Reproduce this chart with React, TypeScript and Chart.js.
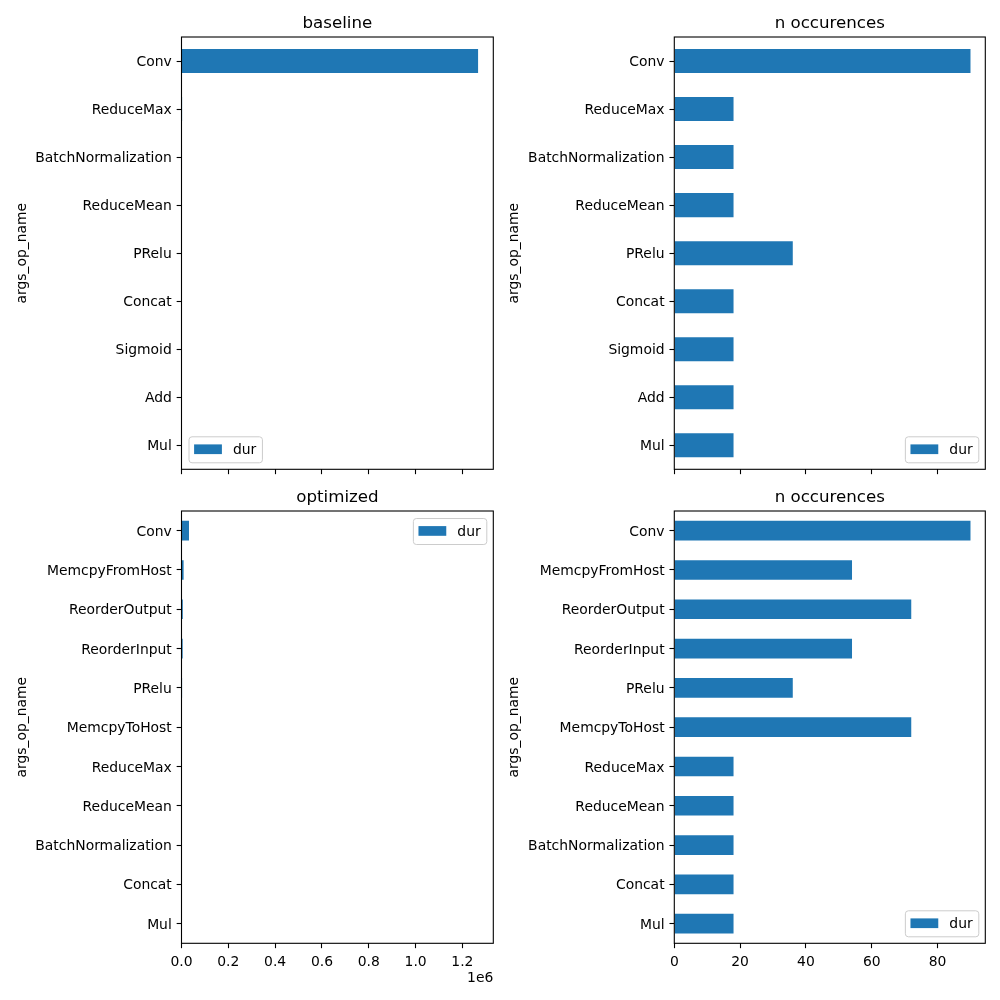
import React, { useEffect, useRef } from "react";
import { Chart, registerables } from "chart.js";

Chart.register(...registerables);

const FONT = "DejaVu Sans";
const BAR_COLOR = "#1f77b4";

// ---- data ----
const BASELINE_OPS = ["Conv", "ReduceMax", "BatchNormalization", "ReduceMean", "PRelu", "Concat", "Sigmoid", "Add", "Mul"];
const BASELINE_DUR = [1267000, 2600, 2200, 1800, 1500, 900, 700, 500, 400];
const BASELINE_COUNT = [90, 18, 18, 18, 36, 18, 18, 18, 18];

const OPTIMIZED_OPS = ["Conv", "MemcpyFromHost", "ReorderOutput", "ReorderInput", "PRelu", "MemcpyToHost", "ReduceMax", "ReduceMean", "BatchNormalization", "Concat", "Mul"];
const OPTIMIZED_DUR = [32000, 9000, 5500, 5000, 2500, 2000, 1600, 1300, 1000, 700, 500];
const OPTIMIZED_COUNT = [90, 54, 72, 54, 36, 72, 18, 18, 18, 18, 18];

const DUR_TICKS = [0, 200000, 400000, 600000, 800000, 1000000, 1200000];
const COUNT_TICKS = [0, 20, 40, 60, 80];
const DUR_MAX = 1332000;
const COUNT_MAX = 94.5;

const framePlugin = {
  id: "mplFrame",
  afterDatasetsDraw(chart: any) {
    const { ctx, chartArea: ca } = chart;
    ctx.save();
    ctx.strokeStyle = "#000";
    ctx.lineWidth = 1.1;
    ctx.strokeRect(ca.left, ca.top, ca.right - ca.left, ca.bottom - ca.top);
    ctx.restore();
  },
};

const legendPlugin = {
  id: "mplLegend",
  afterDraw(chart: any, _args: any, opts: any) {
    const { ctx, chartArea: ca } = chart;
    const fs = 13.9;
    ctx.save();
    ctx.font = `${fs}px "${FONT}"`;
    const label = opts.label || "dur";
    const tw = ctx.measureText(label).width;
    const pad = 5.6;
    const patchW = 27.8;
    const gap = 11.1;
    const w = pad + patchW + gap + tw + pad;
    const h = 26;
    const off = 7;
    const corner = opts.corner || "ll";
    const x = corner[1] === "l" ? ca.left + off : ca.right - off - w;
    const y = corner[0] === "u" ? ca.top + off : ca.bottom - off - h;
    ctx.beginPath();
    (ctx as any).roundRect(x + 0.5, y + 0.5, w, h, 3);
    ctx.fillStyle = "rgba(255,255,255,0.8)";
    ctx.fill();
    ctx.strokeStyle = "#cccccc";
    ctx.lineWidth = 1;
    ctx.stroke();
    ctx.fillStyle = BAR_COLOR;
    ctx.fillRect(x + pad, y + h / 2 - 4.9, patchW, 9.7);
    ctx.fillStyle = "#000";
    ctx.textBaseline = "middle";
    ctx.textAlign = "left";
    ctx.fillText(label, x + pad + patchW + gap, y + h / 2 + 1.2);
    ctx.restore();
  },
};

type PanelProps = {
  left: number;
  top: number;
  width: number;
  height: number;
  title: string;
  titleTop: number;
  titleBottom: number;
  labels: string[];
  values: number[];
  xMax: number;
  xTicks: number[];
  xFormat: (v: number) => string;
  showXLabels: boolean;
  xTitle?: string;
  xTitleBottom?: number;
  xAxisHeight: number;
  yAxisWidth: number;
  yTitlePad: number;
  padRight: number;
  legendCorner: string;
};

function makeConfig(p: PanelProps): any {
  const tickFont = { family: FONT, size: 13.9 };
  return {
    type: "bar",
    data: {
      labels: p.labels,
      datasets: [
        {
          label: "dur",
          data: p.values,
          backgroundColor: BAR_COLOR,
          borderWidth: 0,
          barPercentage: 0.5,
          categoryPercentage: 1,
        },
      ],
    },
    options: {
      indexAxis: "y",
      responsive: false,
      animation: false,
      devicePixelRatio: 1,
      layout: { padding: { left: 0, right: p.padRight, top: 0, bottom: 0 } },
      plugins: {
        legend: { display: false },
        tooltip: { enabled: false },
        title: {
          display: true,
          text: p.title,
          fullSize: false,
          color: "#000",
          font: { family: FONT, size: 16.67, weight: "normal" },
          padding: { top: p.titleTop, bottom: p.titleBottom },
        },
        mplLegend: { corner: p.legendCorner, label: "dur" },
      },
      scales: {
        x: {
          type: "linear",
          min: 0,
          max: p.xMax,
          afterBuildTicks: (s: any) => {
            s.ticks = p.xTicks.map((v) => ({ value: v }));
          },
          afterFit: (s: any) => {
            s.height = p.xAxisHeight;
            s.paddingLeft = 0;
            s.paddingRight = 0;
          },
          grid: {
            drawOnChartArea: false,
            drawTicks: true,
            tickLength: 4.86,
            tickColor: "#000",
            tickWidth: 1.1,
            offset: false,
          },
          border: { display: false },
          ticks: {
            display: p.showXLabels,
            color: "#000",
            font: tickFont,
            padding: 5.9,
            maxRotation: 0,
            minRotation: 0,
            autoSkip: false,
            callback: (v: any) => p.xFormat(Number(v)),
          },
          title: {
            display: !!p.xTitle,
            text: p.xTitle || "",
            align: "end",
            color: "#000",
            font: tickFont,
            padding: { top: 0, bottom: p.xTitleBottom || 0 },
          },
        },
        y: {
          type: "category",
          afterFit: (s: any) => {
            s.width = p.yAxisWidth;
            s.paddingTop = 0;
            s.paddingBottom = 0;
          },
          grid: {
            drawOnChartArea: false,
            drawTicks: true,
            tickLength: 4.86,
            tickColor: "#000",
            tickWidth: 1.1,
            offset: false,
          },
          border: { display: false },
          ticks: {
            color: "#000",
            font: tickFont,
            padding: 4.86,
            labelOffset: 1.5,
            autoSkip: false,
          },
          title: {
            display: true,
            text: "args_op_name",
            color: "#000",
            font: tickFont,
            padding: { top: p.yTitlePad, bottom: 0 },
          },
        },
      },
    },
    plugins: [framePlugin, legendPlugin],
  };
}

function BarPanel(props: PanelProps) {
  const ref = useRef<HTMLCanvasElement | null>(null);
  useEffect(() => {
    if (!ref.current) return;
    const chart = new Chart(ref.current, makeConfig(props));
    return () => chart.destroy();
  }, []);
  return (
    <div style={{ position: "absolute", left: props.left, top: props.top, width: props.width, height: props.height }}>
      <canvas
        ref={ref}
        width={props.width}
        height={props.height}
        style={{ display: "block", width: props.width, height: props.height }}
      />
    </div>
  );
}

const fmtDur = (v: number) => (v / 1e6).toFixed(1);
const fmtCount = (v: number) => String(Math.round(v));

export default function App() {
  return (
    <div style={{ position: "absolute", left: 0, top: 0, width: 1000, height: 1000, background: "#fff" }}>
      <BarPanel
        left={0} top={0} width={500} height={480}
        title="baseline" titleTop={14} titleBottom={3}
        labels={BASELINE_OPS} values={BASELINE_DUR}
        xMax={DUR_MAX} xTicks={DUR_TICKS} xFormat={fmtDur} showXLabels={false}
        xAxisHeight={10.7} yAxisWidth={181.5} yTitlePad={14.4} padRight={6.7}
        legendCorner="ll"
      />
      <BarPanel
        left={500} top={0} width={500} height={480}
        title="n occurences" titleTop={14} titleBottom={3}
        labels={BASELINE_OPS} values={BASELINE_COUNT}
        xMax={COUNT_MAX} xTicks={COUNT_TICKS} xFormat={fmtCount} showXLabels={false}
        xAxisHeight={10.7} yAxisWidth={174.3} yTitlePad={6.0} padRight={14.7}
        legendCorner="lr"
      />
      <BarPanel
        left={0} top={480} width={500} height={520}
        title="optimized" titleTop={8} titleBottom={3}
        labels={OPTIMIZED_OPS} values={OPTIMIZED_DUR}
        xMax={DUR_MAX} xTicks={DUR_TICKS} xFormat={fmtDur} showXLabels={true}
        xTitle="1e6" xTitleBottom={13}
        xAxisHeight={56.7} yAxisWidth={181.5} yTitlePad={14.4} padRight={6.7}
        legendCorner="ur"
      />
      <BarPanel
        left={500} top={480} width={500} height={520}
        title="n occurences" titleTop={8} titleBottom={3}
        labels={OPTIMIZED_OPS} values={OPTIMIZED_COUNT}
        xMax={COUNT_MAX} xTicks={COUNT_TICKS} xFormat={fmtCount} showXLabels={true}
        xAxisHeight={56.7} yAxisWidth={174.3} yTitlePad={6.0} padRight={14.7}
        legendCorner="lr"
      />
    </div>
  );
}
